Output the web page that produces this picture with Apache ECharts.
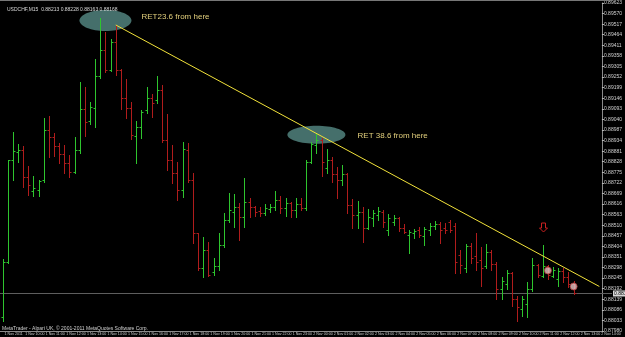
<!DOCTYPE html>
<html>
<head>
<meta charset="utf-8">
<script src="https://cdn.jsdelivr.net/npm/echarts@6/dist/echarts.min.js"></script>
<style>
  html, body { margin: 0; padding: 0; background: #000; }
  #chart { width: 625px; height: 337px; }
</style>
</head>
<body>
<div id="chart"></div>
<script>
  // USDCHF M15, 1 Nov 2011 09:00 -> 2 Nov 12:45
  var symbolName = 'USDCHF,M15';
  var barOpen = [
    0.88048,0.88328,0.88838,0.88878,0.88888,0.88753,0.88683,0.88688,0.88738,0.88988,
    0.88953,0.88908,0.88868,0.88823,0.88778,0.88888,0.89093,0.89033,0.89098,0.89258,
    0.89388,0.89288,0.89428,0.89288,0.89148,0.89098,0.88958,0.89003,0.89088,0.89148,
    0.89138,0.89188,0.88938,0.88838,0.88773,0.88688,0.88888,0.88738,0.88473,0.88298,
    0.88388,0.88278,0.88308,0.88413,0.88538,0.88578,0.88603,0.88553,0.88628,0.88603,
    0.88583,0.88573,0.88593,0.88603,0.88638,0.88598,0.88623,0.88588,0.88618,0.88598,
    0.88828,0.88913,0.88938,0.88798,0.88838,0.88768,0.88738,0.88768,0.88613,0.88563,
    0.88578,0.88498,0.88548,0.88563,0.88578,0.88488,0.88528,0.88548,0.88498,0.88463,
    0.88473,0.88488,0.88458,0.88488,0.88508,0.88518,0.88498,0.88528,0.88508,0.88363,
    0.88298,0.88408,0.88358,0.88338,0.88308,0.88378,0.88318,0.88188,0.88213,0.88273,
    0.88138,0.88088,0.88113,0.88188,0.88313,0.88258,0.88308,0.88258,0.88238,0.88283,
    0.88248,0.88213
  ];
  var barHigh = [
    0.88343,0.88838,0.88978,0.88918,0.88908,0.88808,0.88758,0.88738,0.89048,0.89058,
    0.88973,0.88923,0.88913,0.88863,0.88953,0.89228,0.89203,0.89128,0.89343,0.89548,
    0.89478,0.89443,0.89513,0.89293,0.89243,0.89128,0.89033,0.89088,0.89203,0.89168,
    0.89258,0.89213,0.89068,0.88913,0.88828,0.88928,0.88923,0.88773,0.88473,0.88453,
    0.88428,0.88348,0.88473,0.88573,0.88673,0.88668,0.88623,0.88748,0.88648,0.88608,
    0.88603,0.88618,0.88618,0.88683,0.88658,0.88648,0.88628,0.88648,0.88648,0.88838,
    0.88928,0.88973,0.88948,0.88893,0.88853,0.88803,0.88813,0.88773,0.88643,0.88633,
    0.88603,0.88593,0.88588,0.88603,0.88588,0.88568,0.88563,0.88553,0.88518,0.88488,
    0.88493,0.88503,0.88503,0.88523,0.88533,0.88528,0.88523,0.88538,0.88523,0.88388,
    0.88418,0.88423,0.88473,0.88403,0.88418,0.88388,0.88328,0.88248,0.88288,0.88278,
    0.88153,0.88153,0.88223,0.88348,0.88318,0.88413,0.88313,0.88303,0.88298,0.88298,
    0.88278,0.88228
  ];
  var barLow = [
    0.88028,0.88323,0.88738,0.88828,0.88703,0.88663,0.88658,0.88658,0.88728,0.88853,
    0.88858,0.88823,0.88773,0.88753,0.88773,0.88873,0.88958,0.89018,0.89003,0.89248,
    0.89278,0.89283,0.89263,0.89093,0.89048,0.88943,0.88823,0.88948,0.89073,0.89053,
    0.89123,0.88928,0.88788,0.88723,0.88638,0.88653,0.88728,0.88423,0.88288,0.88248,
    0.88253,0.88263,0.88288,0.88403,0.88528,0.88503,0.88438,0.88503,0.88553,0.88558,
    0.88558,0.88563,0.88578,0.88588,0.88573,0.88558,0.88553,0.88553,0.88588,0.88588,
    0.88823,0.88873,0.88758,0.88773,0.88728,0.88648,0.88713,0.88573,0.88498,0.88498,
    0.88428,0.88493,0.88508,0.88538,0.88503,0.88463,0.88513,0.88483,0.88473,0.88373,
    0.88448,0.88453,0.88413,0.88463,0.88493,0.88423,0.88473,0.88478,0.88273,0.88273,
    0.88278,0.88323,0.88288,0.88203,0.88298,0.88288,0.88138,0.88138,0.88188,0.88103,
    0.88028,0.88053,0.88048,0.88178,0.88248,0.88248,0.88238,0.88248,0.88203,0.88223,
    0.88198,0.88163
  ];
  var barClose = [
    0.88328,0.88838,0.88883,0.88888,0.88753,0.88713,0.88698,0.88733,0.88988,0.88953,
    0.88908,0.88868,0.88823,0.88778,0.88888,0.89093,0.89028,0.89103,0.89258,0.89388,
    0.89288,0.89428,0.89288,0.89148,0.89098,0.88963,0.89003,0.89078,0.89148,0.89123,
    0.89188,0.88938,0.88838,0.88773,0.88688,0.88893,0.88738,0.88473,0.88298,0.88388,
    0.88263,0.88308,0.88413,0.88538,0.88588,0.88603,0.88553,0.88628,0.88603,0.88578,
    0.88573,0.88598,0.88603,0.88638,0.88598,0.88623,0.88588,0.88618,0.88598,0.88828,
    0.88918,0.88938,0.88828,0.88838,0.88768,0.88738,0.88768,0.88613,0.88563,0.88578,
    0.88498,0.88553,0.88573,0.88583,0.88528,0.88548,0.88548,0.88498,0.88478,0.88478,
    0.88483,0.88463,0.88493,0.88508,0.88518,0.88488,0.88488,0.88488,0.88328,0.88313,
    0.88408,0.88348,0.88328,0.88298,0.88378,0.88318,0.88188,0.88228,0.88273,0.88138,
    0.88098,0.88138,0.88188,0.88313,0.88263,0.88308,0.88263,0.88288,0.88283,0.88248,
    0.88213,0.88168
  ];

  // price scale (MT4 grid step)
  var priceMin = 0.8798;
  var priceMax = 0.89623;
  var priceStep = 0.00053;

  // time slots: 15 min bars starting 1 Nov 09:00, a few empty ones on the right
  var startDay = 1;
  var startMinute = 9 * 60;
  var barMinutes = 15;
  var slotCount = 117;
  var firstLabel = '1 Nov 2011';

  // drawn objects
  var trendStart = [22, 0.89513];
  var trendEnd = [116, 0.88203];
  var zoneCenters = [[20, 0.89535], [61, 0.88963]];
  var noteTexts = ['RET23.6 from here', 'RET 38.6 from here'];
  var noteAnchors = [[27, 0.89553], [69, 0.88958]];
  var arrowAt = [105, 0.88498];
  var pointMarks = [[106, 0.88283], [111, 0.88203]];

  function pad(n) { return n < 10 ? '0' + n : '' + n; }
  var times = [];
  for (var i = 0; i < slotCount; i++) {
    var t = startMinute + i * barMinutes;
    var day = startDay + Math.floor(t / 1440);
    var m = t % 1440;
    times.push(day + ' Nov ' + pad(Math.floor(m / 60)) + ':' + pad(m % 60));
  }

  var bars = barOpen.map(function (o, i) {
    return [i, o, barHigh[i], barLow[i], barClose[i]];
  });
  var last = barOpen.length - 1;
  var header = symbolName + '  ' + [barOpen[last], barHigh[last], barLow[last], barClose[last]]
    .map(function (v) { return v.toFixed(5); }).join(' ');

  // OHLC bar: high-low stick, open tick left, close tick right
  function renderBar(params, api) {
    var idx = api.value(0);
    var o = api.coord([idx, api.value(1)]);
    var h = api.coord([idx, api.value(2)]);
    var l = api.coord([idx, api.value(3)]);
    var c = api.coord([idx, api.value(4)]);
    var col = api.value(4) >= api.value(1) ? '#2ec52e' : '#b01c1c';
    var x = Math.round(o[0]) + 0.5;
    var oy = Math.round(o[1]) + 0.5;
    var cy = Math.round(c[1]) + 0.5;
    var st = { stroke: col, lineWidth: 1 };
    return {
      type: 'group',
      children: [
        { type: 'line', shape: { x1: x, y1: Math.round(h[1]), x2: x, y2: Math.round(l[1]) + 1 }, style: st },
        { type: 'line', shape: { x1: x - 2, y1: oy, x2: x, y2: oy }, style: st },
        { type: 'line', shape: { x1: x, y1: cy, x2: x + 2, y2: cy }, style: st }
      ]
    };
  }

  var chart = echarts.init(document.getElementById('chart'));
  var option = {
    backgroundColor: '#000',
    animation: false,
    title: {
      text: header,
      left: 2,
      top: 2,
      textStyle: { color: '#d8d8d8', fontSize: 5, fontWeight: 'normal', fontFamily: 'Liberation Sans' }
    },
    grid: { left: -1.6, right: 14, top: 3, bottom: 6 },
    xAxis: {
      type: 'category',
      data: times,
      boundaryGap: true,
      axisLine: { lineStyle: { color: '#8a8a8a', width: 1 } },
      axisTick: { interval: 3, length: 3, alignWithLabel: true, lineStyle: { color: '#bbb' } },
      axisLabel: {
        interval: 3,
        align: 'left',
        margin: 1,
        padding: [0, 0, 0, 2],
        fontSize: 3.6,
        color: '#d0d0d0',
        fontFamily: 'Liberation Sans',
        hideOverlap: false,
        formatter: function (v, i) { return i === 0 ? firstLabel : v; }
      },
      splitLine: { show: false }
    },
    yAxis: {
      type: 'value',
      position: 'right',
      min: priceMin,
      max: priceMax,
      interval: priceStep,
      axisLine: { show: true, lineStyle: { color: '#8a8a8a' } },
      axisTick: { show: true, length: 2, lineStyle: { color: '#bbb' } },
      axisLabel: {
        margin: 2,
        fontSize: 5,
        color: '#d0d0d0',
        fontFamily: 'Liberation Sans',
        formatter: function (v) { return v.toFixed(5); }
      },
      splitLine: { show: false }
    },
    series: [
      {
        type: 'custom',
        renderItem: renderBar,
        data: bars,
        encode: { x: 0, y: [1, 2, 3, 4] },
        z: 3,
        markLine: {
          silent: true,
          symbol: ['none', 'none'],
          animation: false,
          data: [
            [
              { coord: trendStart, lineStyle: { color: '#f2e23a', width: 1, type: 'solid' }, label: { show: false } },
              { coord: trendEnd }
            ]
          ]
        }
      },
      {
        type: 'scatter',
        data: pointMarks,
        symbol: 'circle',
        symbolSize: 7,
        z: 5,
        itemStyle: { color: '#e8c4c4', borderColor: '#b03a3a', borderWidth: 1 }
      }
    ]
  };
  chart.setOption(option);

  function px(p) { return chart.convertToPixel({ seriesIndex: 0 }, p); }
  var zoneSize = [[26, 10.5], [29, 9]];
  var shapes = [];
  zoneCenters.forEach(function (c, k) {
    var p = px(c);
    shapes.push({
      type: 'ellipse', z: 1,
      shape: { cx: p[0], cy: p[1], rx: zoneSize[k][0], ry: zoneSize[k][1] },
      style: { fill: '#456f6b' }
    });
  });
  noteAnchors.forEach(function (a, k) {
    var p = px(a);
    shapes.push({
      type: 'text', z: 10, x: p[0], y: p[1],
      style: { text: noteTexts[k], fill: '#e2cf7c', fontSize: 8, fontFamily: 'Liberation Sans', verticalAlign: 'middle' }
    });
  });
  var ap = px(arrowAt);
  var ax = Math.round(ap[0]) + 0.5, ay = Math.round(ap[1]);
  shapes.push({
    type: 'polygon', z: 10,
    shape: { points: [[ax - 2, ay - 5], [ax + 2, ay - 5], [ax + 2, ay], [ax + 4, ay], [ax, ay + 4], [ax - 4, ay], [ax - 2, ay]] },
    style: { fill: 'none', stroke: '#c82020', lineWidth: 1 }
  });
  // bid line at the last close, with its price box on the axis
  var bidY = Math.round(px([0, barClose[last]])[1]) + 0.5;
  shapes.push({
    type: 'line', z: 1,
    shape: { x1: 0, y1: bidY, x2: 612, y2: bidY },
    style: { stroke: '#5e5e5e', lineWidth: 1 }
  });
  shapes.push({
    type: 'text', z: 12, x: 613, y: bidY,
    style: {
      text: barClose[last].toFixed(5), fill: '#000', fontSize: 5, fontFamily: 'Liberation Sans',
      verticalAlign: 'middle', backgroundColor: '#d8d8d8', padding: [1, 1, 0, 1]
    }
  });
  shapes.push({
    type: 'line', z: 10,
    shape: { x1: 0, y1: 0.5, x2: 612, y2: 0.5 },
    style: { stroke: '#777', lineWidth: 1 }
  });
  shapes.push({
    type: 'text', z: 10, x: 2, y: 326,
    style: { text: 'MetaTrader - Alpari UK, \u00a9 2001-2011 MetaQuotes Software Corp.', fill: '#d0d0d0', fontSize: 5, fontFamily: 'Liberation Sans' }
  });
  chart.setOption({ graphic: shapes });
</script>
</body>
</html>
